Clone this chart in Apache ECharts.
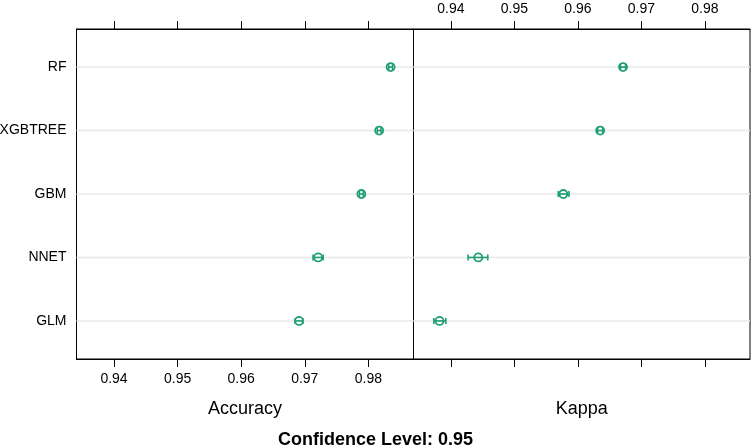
<!DOCTYPE html>
<html lang="en">
<head>
<meta charset="UTF-8">
<title>resamples dotplot</title>
<script src="https://cdn.jsdelivr.net/npm/echarts@6/dist/echarts.min.js"></script>
<style>
  html, body { margin: 0; padding: 0; background: #fff; }
  #main { width: 751px; height: 446px; }
</style>
</head>
<body>
<div id="main"></div>
<script>
// models, bottom to top
var models = ['GLM', 'NNET', 'GBM', 'XGBTREE', 'RF'];
var accuracy = [0.9691, 0.9721, 0.9789, 0.9817, 0.9835];
var accLower = [0.9685, 0.9713, 0.9786, 0.9814, 0.9832];
var accUpper = [0.9697, 0.9729, 0.9792, 0.9820, 0.9838];
var kappa = [0.9382, 0.9443, 0.9577, 0.9635, 0.9671];
var kapLower = [0.9373, 0.9427, 0.9569, 0.9631, 0.9667];
var kapUpper = [0.9392, 0.9458, 0.9586, 0.9639, 0.9675];
var tickValues = [0.94, 0.95, 0.96, 0.97, 0.98];
var rowValues = [1, 2, 3, 4, 5];

var xMin = 0.9341, xMax = 0.9871;
var green = '#1f9e77';
var font = 'Liberation Sans, Arial, Helvetica, sans-serif';

function pointData(vals, lo, hi) {
  return vals.map(function (v, i) { return [v, lo[i], hi[i], rowValues[i]]; });
}

// error bar + open circle (line shows through it)
function renderPoint(params, api) {
  var y = api.value(3);
  var c = api.coord([api.value(0), y]);
  var l = api.coord([api.value(1), y]);
  var h = api.coord([api.value(2), y]);
  var st = { stroke: green, lineWidth: 1.6, fill: null };
  return {
    type: 'group',
    children: [
      { type: 'circle', shape: { cx: c[0], cy: c[1], r: 4 }, style: { stroke: green, lineWidth: 1.8, fill: null } },
      { type: 'line', shape: { x1: l[0], y1: c[1], x2: h[0], y2: c[1] }, style: st },
      { type: 'line', shape: { x1: l[0], y1: c[1] - 3, x2: l[0], y2: c[1] + 3 }, style: st },
      { type: 'line', shape: { x1: h[0], y1: c[1] - 3, x2: h[0], y2: c[1] + 3 }, style: st }
    ]
  };
}

// light reference line across the panel
function renderRef(params, api) {
  var y = api.coord([xMin, api.value(0)])[1];
  var cs = params.coordSys;
  return {
    type: 'line',
    shape: { x1: cs.x, y1: y, x2: cs.x + cs.width, y2: y },
    style: { stroke: '#e8e8e8', lineWidth: 1.5 }
  };
}

function xAxisDef(grid, pos, showLabel, name) {
  return {
    type: 'value', gridIndex: grid, position: pos, min: xMin, max: xMax,
    splitLine: { show: false },
    axisLine: { show: true, onZero: false, lineStyle: { color: '#000', width: 1 } },
    axisTick: { show: true, customValues: tickValues, length: 8, inside: false, lineStyle: { color: '#000', width: 1 } },
    axisLabel: {
      show: showLabel, customValues: tickValues, margin: 13,
      color: '#000', fontSize: 14, fontFamily: font,
      formatter: function (v) { return v.toFixed(2); }
    },
    name: name || '', nameLocation: 'middle', nameGap: 41,
    nameTextStyle: { color: '#000', fontSize: 18, fontFamily: font }
  };
}

function yAxisDef(grid, showLabel) {
  return {
    type: 'value', gridIndex: grid, min: 0.4, max: 5.6,
    splitLine: { show: false },
    axisLine: { show: true, lineStyle: { color: '#000', width: 1 } },
    axisTick: { show: false },
    axisLabel: {
      show: showLabel, customValues: rowValues, margin: 10,
      color: '#000', fontSize: 14, fontFamily: font,
      formatter: function (v) { return models[Math.round(v) - 1]; }
    }
  };
}

var chart = echarts.init(document.getElementById('main'));
chart.setOption({
  animation: false,
  backgroundColor: '#fff',
  grid: [
    { left: 76.5, top: 29, width: 337, height: 330, show: true, borderColor: '#000', borderWidth: 1, backgroundColor: 'transparent', containLabel: false, outerBoundsMode: 'none' },
    { left: 413.5, top: 29, width: 336.5, height: 330, show: true, borderColor: '#000', borderWidth: 1, backgroundColor: 'transparent', containLabel: false, outerBoundsMode: 'none' }
  ],
  xAxis: [
    xAxisDef(0, 'bottom', true, 'Accuracy'),
    xAxisDef(0, 'top', false),
    xAxisDef(1, 'top', true),
    xAxisDef(1, 'bottom', false, 'Kappa')
  ],
  yAxis: [yAxisDef(0, true), yAxisDef(1, false)],
  graphic: [{
    type: 'text', left: 'center', top: 431,
    style: { text: 'Confidence Level: 0.95', fill: '#000', font: 'bold 18px ' + font }
  }],
  series: [
    { type: 'custom', xAxisIndex: 0, yAxisIndex: 0, z: 1, data: rowValues.map(function (r) { return [r]; }), renderItem: renderRef },
    { type: 'custom', xAxisIndex: 2, yAxisIndex: 1, z: 1, data: rowValues.map(function (r) { return [r]; }), renderItem: renderRef },
    { type: 'custom', xAxisIndex: 0, yAxisIndex: 0, z: 3, data: pointData(accuracy, accLower, accUpper), renderItem: renderPoint },
    { type: 'custom', xAxisIndex: 2, yAxisIndex: 1, z: 3, data: pointData(kappa, kapLower, kapUpper), renderItem: renderPoint }
  ]
});
</script>
</body>
</html>
